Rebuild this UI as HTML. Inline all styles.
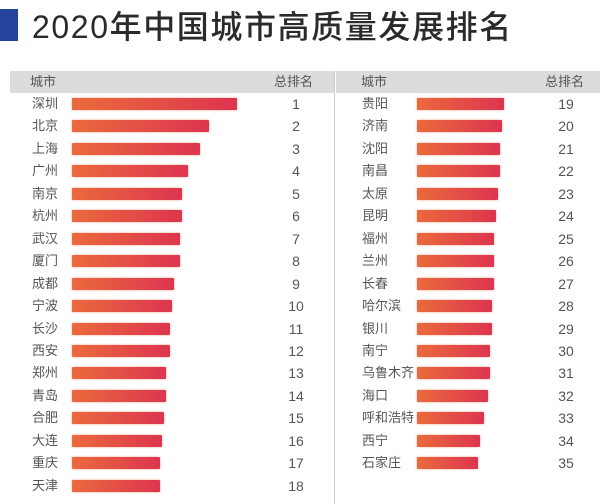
<!DOCTYPE html><html><head><meta charset="utf-8"><style>
body{margin:0;width:600px;height:504px;background:#fff;position:relative;overflow:hidden;font-family:"Liberation Sans","Noto Sans CJK SC",sans-serif;color:#555}
.t{position:absolute;left:32px;top:2px;font-size:32px;color:#2a2a2a;font-weight:500;letter-spacing:1.6px;white-space:nowrap}
.sq{position:absolute;left:0;top:9px;width:18px;height:32px;background:#24439a}
.hd{position:absolute;top:71px;height:22px;background:#dcdcdc}
.a{position:absolute;font-size:13px;line-height:16px;white-space:nowrap}
.b{position:absolute;height:12px;background:linear-gradient(90deg,#ea6a3c,#dd3550);border-radius:1px;box-shadow:0 0 2px #f3a08a}
.r{position:absolute;font-size:14px;width:40px;text-align:center;line-height:16px}
</style></head><body>
<div class="sq"></div><div class="t">2020年中国城市高质量发展排名</div>
<div class="hd" style="left:10px;width:324px"></div>
<div class="hd" style="left:336px;width:264px"></div>
<div style="position:absolute;left:334px;top:71px;width:1px;height:433px;background:#ccc"></div>
<div class="a" style="left:30px;top:74px">城市</div>
<div class="a" style="left:274px;top:74px">总排名</div>
<div class="a" style="left:361px;top:74px">城市</div>
<div class="a" style="left:545px;top:74px">总排名</div>
<div id="c"></div>
<script>
var L=[["深圳",237],["北京",209],["上海",200],["广州",188],["南京",182],["杭州",182],["武汉",180],["厦门",180],["成都",174],["宁波",172],["长沙",170],["西安",170],["郑州",166],["青岛",166],["合肥",164],["大连",162],["重庆",160],["天津",160]];
var R=[["贵阳",504],["济南",502],["沈阳",500],["南昌",500],["太原",498],["昆明",496],["福州",494],["兰州",494],["长春",494],["哈尔滨",492],["银川",492],["南宁",490],["乌鲁木齐",490],["海口",488],["呼和浩特",484],["西宁",480],["石家庄",478]];
var h="";
L.forEach(function(d,i){var y=104+i*22.45;h+='<div class="a" style="left:32px;top:'+(y-8)+'px">'+d[0]+'</div><div class="b" style="left:72px;width:'+(d[1]-72)+'px;top:'+(y-6)+'px"></div><div class="r" style="left:276px;top:'+(y-8)+'px">'+(i+1)+'</div>';});
R.forEach(function(d,i){var y=104+i*22.45;h+='<div class="a" style="left:362px;top:'+(y-8)+'px">'+d[0]+'</div><div class="b" style="left:417px;width:'+(d[1]-417)+'px;top:'+(y-6)+'px"></div><div class="r" style="left:546px;top:'+(y-8)+'px">'+(i+19)+'</div>';});
document.getElementById("c").innerHTML=h;
</script>
</body></html>
